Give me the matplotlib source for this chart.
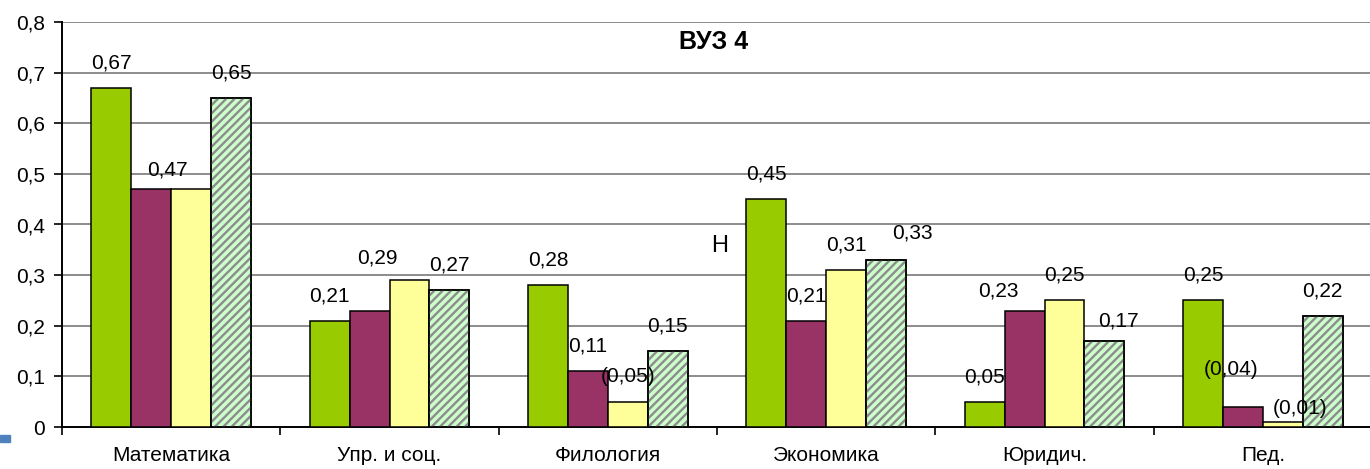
import matplotlib
matplotlib.use("Agg")
import matplotlib.pyplot as plt
import numpy as np
from matplotlib.patches import Rectangle
from matplotlib.ticker import FuncFormatter, FixedLocator

plt.rcParams["font.family"] = ["Liberation Sans", "DejaVu Sans"]
plt.rcParams["hatch.linewidth"] = 1.7

categories = ["Математика", "Упр. и соц.", "Филология", "Экономика", "Юридич.", "Пед."]
green = [0.67, 0.21, 0.28, 0.45, 0.05, 0.25]
purple = [0.47, 0.23, 0.11, 0.21, 0.23, 0.04]
yellow = [0.47, 0.29, 0.05, 0.31, 0.25, 0.01]
hatched = [0.65, 0.27, 0.15, 0.33, 0.17, 0.22]

# labels as printed on the original (None = not shown)
green_lbl = ["0,67", "0,21", "0,28", "0,45", "0,05", "0,25"]
purple_lbl = ["0,47", None, "0,11", "0,21", "0,23", "(0,04)"]
yellow_lbl = [None, "0,29", "(0,05)", "0,31", "0,25", "(0,01)"]
hatched_lbl = ["0,65", "0,27", "0,15", "0,33", "0,17", "0,22"]

series = [green, purple, yellow, hatched]
labels = [green_lbl, purple_lbl, yellow_lbl, hatched_lbl]
colors = ["#99cc00", "#993366", "#ffff99", "#ccffcc"]

# label nudges in pixels (dx, dy above bar top) where the original moved them
nudge = {(1, 0): (16, 19), (2, 1): (-32, 22), (3, 3): (26, 27),
         (1, 4): (-26, 20), (3, 4): (14, 20), (1, 5): (-12, 37), (2, 5): (17, 13)}

FS = 15

fig = plt.figure(figsize=(13.7, 4.69), dpi=100)
ax = fig.add_axes([62 / 1370, 42 / 469, 1310 / 1370, 405 / 469])

x = np.arange(len(categories))
w = 0.183
for k, (vals, col) in enumerate(zip(series, colors)):
    xs = x + (k - 1.5) * w
    ax.bar(xs, vals, w, color=col, edgecolor="black", linewidth=1.1, zorder=3)
    if k == 3:
        ax.bar(xs, vals, w, color="none", edgecolor="#8c8c8c", hatch="////",
               linewidth=0, zorder=4)
        ax.bar(xs, vals, w, color="none", edgecolor="black", linewidth=1.1, zorder=5)
    for i, (xi, v) in enumerate(zip(xs, vals)):
        t = labels[k][i]
        if t is None:
            continue
        dx, dy = nudge.get((k, i), (0, 25))
        ax.annotate(t, (xi, v), xytext=(dx, dy), textcoords="offset pixels",
                    ha="center", va="center", fontsize=FS, zorder=6)

ax.set_xlim(-0.5, len(categories) - 0.5)
ax.set_ylim(0, 0.8)
ax.set_yticks(np.arange(0, 0.81, 0.1))
ax.yaxis.set_major_formatter(FuncFormatter(lambda v, p: "0" if v == 0 else f"{v:.1f}".replace(".", ",")))
ax.grid(axis="y", color="#8c8c8c", linewidth=1.4, zorder=0)
ax.set_xticks(x)
ax.set_xticklabels(categories)
ax.xaxis.set_minor_locator(FixedLocator(np.arange(-0.5, len(categories), 1.0)))
ax.tick_params(axis="x", which="major", length=0, pad=14, labelsize=FS)
ax.tick_params(axis="x", which="minor", length=6, width=1.2, direction="out")
ax.tick_params(axis="y", length=6, width=1.2, labelsize=FS, pad=6)
for s in ["top", "right"]:
    ax.spines[s].set_visible(False)
for s in ["left", "bottom"]:
    ax.spines[s].set_linewidth(1.4)

ax.text(0.497, 0.95, "ВУЗ 4", transform=ax.transAxes, ha="center", va="center",
        fontsize=18, fontweight="bold")
ax.text(0.5023, 0.448, "Н", transform=ax.transAxes, ha="center", va="center", fontsize=17)

fig.patches.append(Rectangle((0, 27 / 469), 10 / 1370, 7 / 469, transform=fig.transFigure,
                             color="#4f81bd"))

fig.savefig("out.png", dpi=100)
